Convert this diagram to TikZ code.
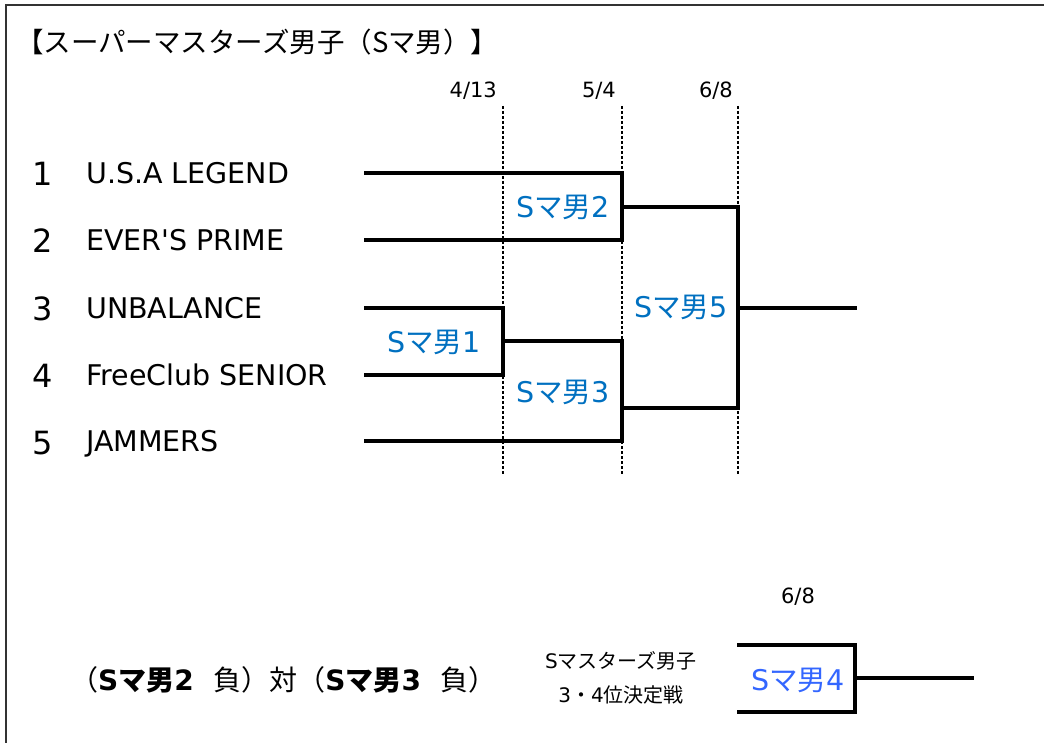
\documentclass[tikz,border=0pt]{standalone}
\usepackage{fontspec}
\setmainfont{DejaVu Sans}
\newfontfamily\jp{Noto Sans CJK JP}
\definecolor{smblue}{HTML}{0070C0}
\definecolor{smbluefour}{HTML}{3366FF}
\newcommand{\smo}[1]{S{\jp マ男}#1}
\newcommand{\fs}[1]{\fontsize{#1}{#1}\selectfont}

\begin{document}
\begin{tikzpicture}[x=1pt,y=-1pt,
  line/.style={line width=3.2pt},
  dateline/.style={line width=2.8pt,dash pattern=on 2.6pt off 2.4pt},
  seed/.style={anchor=base,inner sep=0,font=\fs{32}},
  team/.style={anchor=base west,inner sep=0,font=\fs{28.5}},
  datelbl/.style={anchor=base east,inner sep=0,font=\fs{21}},
  match/.style={inner sep=0,text=smblue,font=\fs{28.5}}]
\useasboundingbox (0,0) rectangle (1044,743);
\draw[line width=1.6pt,black!80] (1044,5) -- (6,5) -- (6,743);

% title
\node[anchor=base west,inner sep=0,font=\fs{27.5}] (title) at (16,53)
  {\jp 【スーパーマスターズ男子（Sマ男）】};

% dates and dotted lines
\node[datelbl] (d1) at (497,98) {4/13};
\node[datelbl] (d2) at (616,98) {5/4};
\node[datelbl] (d3) at (733,98) {6/8};
\coordinate (c1) at (503,106);
\coordinate (c2) at (622,106);
\coordinate (c3) at (738,106);
\foreach \c in {c1,c2,c3}
  \draw[dateline] (\c) -- ++(0,369);

% teams
\node[seed] (s1) at (43,186) {1};
\node[seed] (s2) at (43,253) {2};
\node[seed] (s3) at (43,320) {3};
\node[seed] (s4) at (43,387) {4};
\node[seed] (s5) at (43,454) {5};
\node[team] (n1) at (86,183.5) {U.S.A LEGEND};
\node[team] (n2) at (86,250.5) {EVER\textquotesingle S PRIME};
\node[team] (n3) at (86,318.5) {UNBALANCE};
\node[team] (n4) at (86,385.5) {FreeClub SENIOR};
\node[team] (n5) at (86,451.5) {JAMMERS};

% bracket
\coordinate (t1) at (364,173);
\coordinate (t2) at (364,240);
\coordinate (t3) at (364,308);
\coordinate (t4) at (364,375);
\coordinate (t5) at (364,441);
\coordinate (w1) at (503,341);
\coordinate (w2) at (622,207);
\coordinate (w3) at (622,408);
\coordinate (w5) at (738,308);
\coordinate (fin) at (857,308);
\draw[line] (t1) -| (w2 |- t2) -- (t2);
\draw[line] (t3) -| (w1 |- t4) -- (t4);
\draw[line] (w1) -| (w3 |- t5) -- (t5);
\draw[line] (w2) -| (w5 |- w3) -- (w3);
\draw[line] (w5) -- (fin);
\node[match] (m1) at (434,342) {\smo{1}};
\node[match] (m2) at (563,207) {\smo{2}};
\node[match] (m3) at (563,392) {\smo{3}};
\node[match] (m5) at (681,307) {\smo{5}};

% 3rd place
\node[anchor=base west,inner sep=0,font=\fs{28}] (vs) at (70,690)
  {{\jp （}{\bfseries\smo{2}}\hspace{0.7em}{\jp 負）対（}{\bfseries\smo{3}}\hspace{0.7em}{\jp 負）}};
\node[align=center,inner sep=0,font=\fs{20}] (third) at (621,678)
  {S{\jp マスターズ男子}\\[14pt]3{\jp ・}4{\jp 位決定戦}};
\node[datelbl,anchor=base] (d4) at (798,603) {6/8};
\coordinate (q1) at (737,645);
\coordinate (q2) at (737,712);
\coordinate (w4) at (855,678);
\coordinate (fin4) at (974,678);
\draw[line] (q1) -| (w4 |- q2) -- (q2);
\draw[line] (w4) -- (fin4);
\node[match,text=smbluefour] (m4) at (798,680) {\smo{4}};
\end{tikzpicture}
\end{document}
